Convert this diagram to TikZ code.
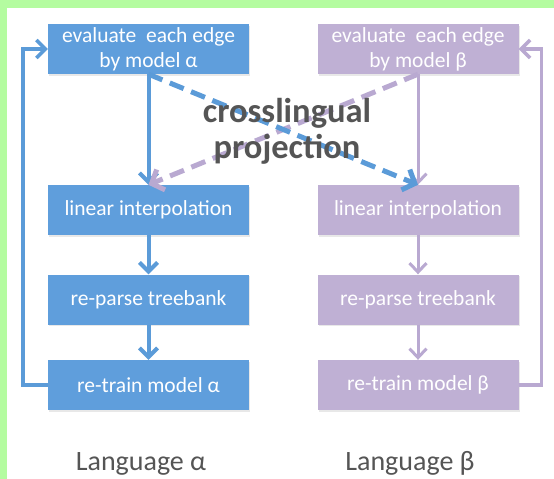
\documentclass[tikz,border=0pt]{standalone}
\usepackage{fontspec}
\setmainfont{Carlito}
\usetikzlibrary{arrows.meta,shadows}
\definecolor{bgreen}{HTML}{B4FCA0}
\definecolor{boxblue}{HTML}{5F9EDC}
\definecolor{boxpurple}{HTML}{BFB0D4}
\definecolor{arrblue}{HTML}{5B9BD8}
\definecolor{arrpurple}{HTML}{B9A9D1}
\definecolor{txtgray}{HTML}{555555}
\begin{document}
\begin{tikzpicture}[x=1pt,y=-1pt,
  box/.style={minimum width=201pt, minimum height=50pt, inner sep=0pt, align=center,
    text=white, font=\fontsize{21.5}{25}\selectfont,
    drop shadow={opacity=0.18, shadow xshift=1pt, shadow yshift=-1.5pt}},
  boxA/.style={box, fill=boxblue},
  boxB/.style={box, fill=boxpurple},
  solA/.style={draw=arrblue, line width=4pt, -{Straight Barb[length=9pt,width=18pt]}},
  solB/.style={draw=arrpurple, line width=3pt, -{Straight Barb[length=9pt,width=17pt]}},
  fbA/.style={draw=arrblue, line width=3.5pt, -{Straight Barb[length=9pt,width=18pt]}},
  fbB/.style={draw=arrpurple, line width=3.5pt, -{Straight Barb[length=9pt,width=18pt]}},
  dashA/.style={draw=arrblue, line width=5pt, dash pattern=on 15pt off 8pt, -{Straight Barb[length=10pt,width=22pt]}},
  dashB/.style={draw=arrpurple, line width=5pt, dash pattern=on 15pt off 8pt, -{Straight Barb[length=10pt,width=22pt]}},
  lang/.style={text=txtgray, font=\fontsize{28}{32}\selectfont, anchor=base, inner sep=0pt},
  proj/.style={text=txtgray, font=\bfseries\fontsize{34.5}{36}\selectfont, align=center, inner sep=0pt}
]
\useasboundingbox (0,0) rectangle (554,479);
\fill[white] (-5,-5) rectangle (560,485);
\fill[bgreen] (-5,-5) rectangle (560,8);
\fill[bgreen] (-5,-5) rectangle (7,485);

% left column
\node[boxA] (eA) at (148.5,49) {evaluate~ each edge\\by model α};
\node[boxA] (lA) at (148.5,210) {linear interpolation};
\node[boxA] (pA) at (148.5,299.5) {re-parse treebank};
\node[boxA] (rA) at (148.5,385) {re-train model α};
% right column
\node[boxB] (eB) at (418,49) {evaluate~ each edge\\by model β};
\node[boxB] (lB) at (418,210) {linear interpolation};
\node[boxB] (pB) at (418,299.5) {re-parse treebank};
\node[boxB] (rB) at (418,385) {re-train model β};

% vertical arrows
\draw[solA] (eA.south) -- (lA.north);
\draw[solA] (lA.south) -- (pA.north);
\draw[solA] (pA.south) -- (rA.north);
\draw[solB] (eB.south) -- (lB.north);
\draw[solB] (lB.south) -- (pB.north);
\draw[solB] (pB.south) -- (rB.north);

% feedback loops
\draw[fbA] (rA.west) -- ++(-25,0) |- (eA.west);
\draw[fbB] (rB.east) -- ++(23,0) |- (eB.east);

% crosslingual projection
\draw[dashB] (eB.south) -- (lA.north);
\draw[dashA] (eA.south) -- (lB.north);
\node[proj] (cp) at (287,131) {crosslingual\\projection};

% language labels
\node[lang] (la) at (141,470) {Language α};
\node[lang] (lb) at (410,470) {Language β};
\end{tikzpicture}
\end{document}
